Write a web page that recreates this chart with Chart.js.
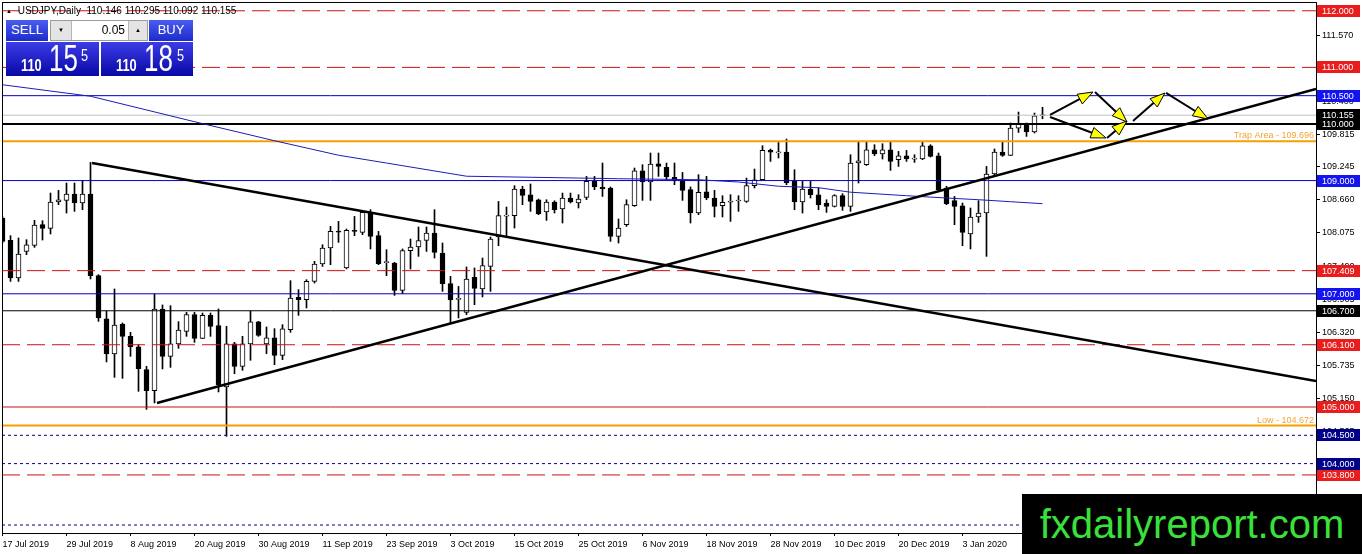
<!DOCTYPE html>
<html lang="en">
<head>
<meta charset="UTF-8">
<title>USDJPY Daily</title>
<script src="https://cdn.jsdelivr.net/npm/chart.js"></script>
<style>
    body { margin: 0; padding: 0; background: #fff; overflow: hidden; font-family: 'Liberation Sans', Arial, sans-serif; }
    #wrap { position: relative; width: 1362px; height: 554px; }
    #chart { position: absolute; left: 0; top: 0; }
    #header { position: absolute; left: 6px; top: 5px; font-size: 10px; line-height: 11px; color: #000; white-space: pre; }
    #header .tri { font-size: 6px; vertical-align: 1px; margin-right: 3px; }
    #panel div { position: absolute; box-sizing: border-box; }
    .btn { color: #fff; font-size: 13px; text-align: center; line-height: 20px; background: linear-gradient(#4a5cf0, #1c2ccc); }
    #sellBtn { left: 6px; top: 20px; width: 42px; height: 21px; }
    #buyBtn { left: 149px; top: 20px; width: 44px; height: 21px; }
    #spin { left: 50px; top: 20px; width: 98px; height: 21px; border: 1px solid #9c9c9c; background: #fff; }
    #spinDown { left: 0; top: 0; width: 21px; height: 19px; background: #e4e4e4; border-right: 1px solid #b4b4b4; font-size: 6px; text-align: center; line-height: 19px; }
    #spinVal { left: 21px; top: 0; width: 57px; height: 19px; text-align: right; font-size: 12px; line-height: 19px; padding-right: 4px; }
    #spinUp { right: 0; top: 0; width: 19px; height: 19px; background: #e4e4e4; border-left: 1px solid #b4b4b4; font-size: 6px; text-align: center; line-height: 19px; }
    .price { top: 42px; height: 34px; background: linear-gradient(#3c3ce6, #0808a6); color: #fff; overflow: hidden; }
    #sellPrice { left: 6px; width: 93px; }
    #buyPrice { left: 101px; width: 92px; }
    .price span { position: absolute; line-height: 1; white-space: nowrap; transform-origin: 0 0; }
    .price .s { top: 16px; left: 15px; font-size: 16px; font-weight: bold; transform: scaleX(0.8); }
    .price .b { top: -2px; left: 43px; font-size: 37px; transform: scaleX(0.7); }
    .price .u { top: 5px; font-size: 17px; transform: scaleX(0.75); }
    #logo { position: absolute; left: 1022px; top: 494px; width: 340px; height: 60px; background: #000; color: #3be03b; font-size: 40px; line-height: 60px; text-align: center; }
</style>
</head>
<body>
<div id="wrap">
    <canvas id="chart" width="1362" height="554"></canvas>
    <div id="header"><span class="tri">&#9650;</span> USDJPY,Daily  110.146 110.295 110.092 110.155</div>
    <div id="panel">
        <div id="sellBtn" class="btn">SELL</div>
        <div id="spin">
            <div id="spinDown">&#9660;</div>
            <div id="spinVal">0.05</div>
            <div id="spinUp">&#9650;</div>
        </div>
        <div id="buyBtn" class="btn">BUY</div>
        <div id="sellPrice" class="price"><span class="s">110</span><span class="b">15</span><span class="u" style="left:75px">5</span></div>
        <div id="buyPrice" class="price"><span class="s">110</span><span class="b">18</span><span class="u" style="left:76px">5</span></div>
    </div>
    <div id="logo">fxdailyreport.com</div>
</div>

<script>
    // daily bars, 17 Jul 2019 -> 17 Jan 2020 (bar index = position on the x axis)
    const barOpen = [
        108.339, 107.944, 107.279, 107.749, 107.855, 108.221, 108.156, 108.622, 108.650, 108.763,
        108.604, 108.763, 107.320, 106.556, 105.937, 106.467, 106.248, 106.061, 105.660, 105.289,
        106.732, 105.895, 106.114, 106.337, 106.631, 106.213, 106.619, 106.437, 105.354, 106.114,
        105.718, 106.114, 106.503, 106.114, 106.220, 105.913, 106.367, 106.937, 106.896, 107.219,
        107.527, 107.809, 108.102, 107.456, 108.120, 108.085, 108.438, 108.027, 107.550, 107.544,
        107.061, 107.762, 107.827, 107.944, 108.074, 107.720, 107.179, 106.900, 106.672, 107.291,
        107.085, 107.485, 108.003, 108.370, 108.380, 108.851, 108.750, 108.662, 108.445, 108.622,
        108.498, 108.692, 108.604, 108.703, 108.986, 108.887, 108.869, 108.014, 108.221, 108.556,
        109.174, 108.975, 109.298, 109.233, 109.056, 108.998, 108.839, 108.427, 108.800, 108.692,
        108.556, 108.620, 108.640, 108.632, 108.910, 109.015, 109.533, 109.490, 109.505, 108.986,
        108.622, 108.851, 108.750, 108.604, 108.544, 108.733, 108.544, 109.310, 109.280, 109.545,
        109.469, 109.545, 109.369, 109.439, 109.380, 109.381, 109.616, 109.439, 108.869, 108.645,
        108.556, 108.057, 108.357, 108.427, 109.116, 109.505, 109.445, 109.928, 110.000, 109.858,
        110.146
    ];
    const barHigh = [
        108.360, 108.027, 107.986, 107.956, 108.297, 108.291, 108.780, 108.827, 108.957, 108.957,
        109.003, 109.321, 107.338, 106.690, 107.085, 106.485, 106.319, 106.102, 105.718, 106.997,
        106.803, 106.790, 106.508, 106.672, 106.672, 106.660, 106.660, 106.732, 106.425, 106.142,
        106.248, 106.690, 106.514, 106.414, 106.384, 106.455, 107.232, 107.073, 107.249, 107.573,
        107.867, 108.191, 108.279, 108.144, 108.367, 108.468, 108.486, 108.102, 107.779, 107.556,
        107.792, 107.968, 108.180, 108.180, 108.486, 107.897, 107.308, 107.130, 107.474, 107.456,
        107.632, 108.003, 108.632, 108.533, 108.910, 108.900, 108.940, 108.674, 108.662, 108.644,
        108.780, 108.780, 108.751, 109.074, 109.074, 109.310, 108.887, 108.321, 108.662, 109.222,
        109.280, 109.487, 109.487, 109.310, 109.310, 109.144, 108.887, 109.104, 109.074, 108.827,
        108.733, 108.751, 108.733, 109.045, 109.204, 109.616, 109.558, 109.674, 109.734, 109.192,
        108.986, 108.986, 108.869, 108.662, 108.751, 108.768, 109.457, 109.692, 109.692, 109.634,
        109.651, 109.692, 109.515, 109.533, 109.457, 109.692, 109.634, 109.487, 108.900, 108.720,
        108.604, 108.516, 108.645, 109.250, 109.558, 109.692, 110.017, 110.211, 110.017, 110.193,
        110.295
    ];
    const barLow = [
        107.900, 107.219, 107.219, 107.691, 107.820, 107.950, 108.057, 108.574, 108.427, 108.456,
        108.486, 107.262, 106.513, 105.796, 105.524, 105.506, 105.895, 105.277, 104.958, 105.072,
        105.672, 105.700, 106.036, 106.248, 106.142, 106.207, 106.248, 105.266, 104.482, 105.589,
        105.648, 105.825, 106.248, 105.943, 105.748, 105.837, 106.319, 106.619, 106.749, 107.190,
        107.484, 107.514, 107.908, 107.440, 108.027, 108.044, 107.792, 107.514, 107.320, 106.972,
        107.002, 107.438, 107.661, 107.749, 107.632, 107.043, 106.485, 106.573, 106.631, 106.808,
        106.944, 107.043, 107.850, 108.027, 108.162, 108.574, 108.456, 108.397, 108.297, 108.427,
        108.250, 108.604, 108.516, 108.662, 108.839, 108.720, 107.926, 107.897, 108.191, 108.544,
        108.650, 108.650, 109.074, 109.015, 108.927, 108.650, 108.250, 108.397, 108.662, 108.357,
        108.357, 108.279, 108.456, 108.615, 108.869, 109.003, 109.339, 109.399, 108.927, 108.486,
        108.427, 108.692, 108.486, 108.438, 108.533, 108.474, 108.456, 108.957, 109.268, 109.440,
        109.381, 109.180, 109.250, 109.339, 109.321, 109.369, 109.416, 108.827, 108.574, 108.221,
        107.850, 107.792, 108.262, 107.661, 109.074, 109.427, 109.440, 109.850, 109.780, 109.840,
        110.092
    ];
    const barClose = [
        107.926, 107.279, 107.703, 107.867, 108.215, 108.156, 108.622, 108.662, 108.763, 108.604,
        108.763, 107.320, 106.573, 105.937, 106.449, 106.248, 106.061, 105.678, 105.289, 106.732,
        105.895, 106.114, 106.361, 106.631, 106.213, 106.619, 106.425, 105.390, 106.114, 105.718,
        106.114, 106.503, 106.266, 106.220, 105.913, 106.379, 106.926, 106.896, 107.219, 107.527,
        107.809, 108.102, 108.090, 108.120, 108.100, 108.438, 108.014, 107.532, 107.560, 107.061,
        107.762, 107.827, 107.938, 108.074, 107.732, 107.179, 106.896, 106.920, 107.262, 107.096,
        107.497, 107.968, 108.380, 108.390, 108.851, 108.738, 108.632, 108.410, 108.622, 108.486,
        108.692, 108.622, 108.675, 108.986, 108.887, 108.851, 108.014, 108.162, 108.574, 109.174,
        108.975, 109.293, 109.250, 109.063, 109.003, 108.827, 108.427, 108.791, 108.692, 108.544,
        108.615, 108.640, 108.650, 108.910, 109.015, 109.533, 109.500, 109.500, 108.957, 108.622,
        108.851, 108.750, 108.574, 108.544, 108.733, 108.544, 109.310, 109.351, 109.545, 109.469,
        109.545, 109.339, 109.439, 109.381, 109.390, 109.616, 109.427, 108.839, 108.592, 108.544,
        108.085, 108.357, 108.427, 109.116, 109.505, 109.445, 109.928, 109.999, 109.858, 110.146,
        110.155
    ];

    // moving average (sampled at some bars)
    const maIndex = [0, 11, 24, 34, 42, 48, 58, 72, 77, 87, 92, 97, 102, 106, 113, 118, 122, 126, 130];
    const maValue = [110.693, 110.490, 110.040, 109.704, 109.448, 109.310, 109.077, 109.045, 109.033, 109.015,
                     108.975, 108.900, 108.874, 108.795, 108.733, 108.692, 108.662, 108.627, 108.592];

    // date axis
    const dateTicks = [0, 8, 16, 24, 32, 40, 48, 56, 64, 72, 80, 88, 96, 104, 112, 120];
    const dateLabels = ['17 Jul 2019', '29 Jul 2019', '8 Aug 2019', '20 Aug 2019', '30 Aug 2019', '11 Sep 2019',
                        '23 Sep 2019', '3 Oct 2019', '15 Oct 2019', '25 Oct 2019', '6 Nov 2019', '18 Nov 2019',
                        '28 Nov 2019', '10 Dec 2019', '20 Dec 2019', '3 Jan 2020'];

    // price axis
    const priceTicks = [111.570, 110.985, 110.400, 109.815, 109.245, 108.660, 108.075, 107.490,
                        106.905, 106.320, 105.735, 105.150, 104.565, 103.980, 103.395];

    // horizontal levels
    const redDashLevels = [112.000, 111.000, 107.409, 106.100, 103.800];
    const redLevels = [105.000];
    const blueLevels = [110.500, 109.000, 107.000];
    const navyDotLevels = [104.500, 104.000, 102.915];
    const thickBlackLevels = [110.000];
    const thinBlackLevels = [106.700];
    const orangeLevels = [109.696, 104.672];
    const orangeNames = ['Trap Area', 'Low'];
    const bidPrice = 110.155;

    // trend lines (bar index, price)
    const trendFromIdx = [11.19, 19.31];
    const trendFromPrice = [109.311, 105.071];
    const trendToIdx = [164.19, 164.19];
    const trendToPrice = [105.459, 110.618];

    // scenario arrows (bar index, price)
    const arrowFromIdx = [130.94, 136.56, 130.94, 138.06, 141.31, 145.44];
    const arrowFromPrice = [110.159, 110.565, 110.124, 109.753, 110.053, 110.548];
    const arrowToIdx = [136.31, 140.56, 137.94, 140.56, 145.31, 150.69];
    const arrowToPrice = [110.565, 110.035, 109.753, 110.053, 110.548, 110.088];

    const xMin = -0.0625, xMax = 164.1875;
    const yMin = 102.774, yMax = 112.155;
    const axisFont = { family: "'Liberation Sans', Arial, sans-serif", size: 9 };

    function levelLine(price, color, width, dash) {
        return {
            type: 'line',
            data: [{ x: xMin, y: price }, { x: xMax, y: price }],
            borderColor: color, borderWidth: width, borderDash: dash || [],
            pointRadius: 0, order: 10, clip: 0
        };
    }

    const datasets = [];
    // wicks then bodies
    datasets.push({
        type: 'bar',
        data: barOpen.map((o, i) => ({ x: i, y: [barLow[i], barHigh[i]] })),
        backgroundColor: '#000', borderWidth: 0, barThickness: 1,
        grouped: false, order: 20, clip: 0
    });
    datasets.push({
        type: 'bar',
        data: barOpen.map((o, i) => ({ x: i, y: [o, barClose[i]] })),
        backgroundColor: ctx => barClose[ctx.dataIndex] >= barOpen[ctx.dataIndex] ? '#fff' : '#000',
        borderColor: '#000', borderWidth: 1, borderSkipped: false, barThickness: 5,
        minBarLength: 1, grouped: false, order: 19, clip: 0
    });

    redDashLevels.forEach(v => datasets.push(levelLine(v, '#cc1111', 1, [18, 7])));
    redLevels.forEach(v => datasets.push(levelLine(v, '#cc1111', 1)));
    blueLevels.forEach(v => datasets.push(levelLine(v, '#0000c0', 1)));
    navyDotLevels.forEach(v => datasets.push(levelLine(v, '#000080', 1, [3, 3])));
    thinBlackLevels.forEach(v => datasets.push(levelLine(v, '#000', 1)));
    datasets.push(levelLine(bidPrice, '#c0c0c0', 1));
    thickBlackLevels.forEach(v => datasets.push(levelLine(v, '#000', 2)));
    orangeLevels.forEach(v => datasets.push(levelLine(v, '#f5a000', 2)));

    // moving average
    datasets.push({
        type: 'line',
        data: maIndex.map((x, i) => ({ x: x, y: maValue[i] })),
        borderColor: '#1c1cb4', borderWidth: 1, pointRadius: 0, tension: 0, order: 8, clip: 0
    });

    // trend lines
    trendFromIdx.forEach((x0, k) => datasets.push({
        type: 'line',
        data: [{ x: x0, y: trendFromPrice[k] }, { x: trendToIdx[k], y: trendToPrice[k] }],
        borderColor: '#000', borderWidth: 2.5, pointRadius: 0, order: 5, clip: 0
    }));

    function drawTag(ctx, area, y, text, bg) {
        ctx.fillStyle = bg;
        ctx.fillRect(area.right + 1, Math.round(y) - 6, 43, 12);
        ctx.fillStyle = '#fff';
        ctx.textAlign = 'left';
        ctx.textBaseline = 'middle';
        ctx.fillText(text, area.right + 6, Math.round(y) + 0.5);
    }

    const drawnObjects = {
        id: 'drawnObjects',
        afterDatasetsDraw(chart) {
            const { ctx, scales: { x, y } } = chart;
            ctx.save();
            ctx.lineJoin = 'miter';
            for (let k = 0; k < arrowFromIdx.length; k++) {
                const x0 = x.getPixelForValue(arrowFromIdx[k]), y0 = y.getPixelForValue(arrowFromPrice[k]);
                const x1 = x.getPixelForValue(arrowToIdx[k]), y1 = y.getPixelForValue(arrowToPrice[k]);
                const a = Math.atan2(y1 - y0, x1 - x0);
                const c = Math.cos(a), s = Math.sin(a);
                ctx.strokeStyle = '#000';
                ctx.lineWidth = 2;
                ctx.beginPath();
                ctx.moveTo(x0, y0);
                ctx.lineTo(x1 - 10 * c, y1 - 10 * s);
                ctx.stroke();
                const bx = x1 - 15 * c, by = y1 - 15 * s;
                ctx.beginPath();
                ctx.moveTo(x1, y1);
                ctx.lineTo(bx + 5.5 * s, by - 5.5 * c);
                ctx.lineTo(bx - 5.5 * s, by + 5.5 * c);
                ctx.closePath();
                ctx.fillStyle = '#ffff00';
                ctx.fill();
                ctx.lineWidth = 1;
                ctx.stroke();
            }
            ctx.restore();
        },
        afterDraw(chart) {
            const { ctx, chartArea: area, scales: { y } } = chart;
            ctx.save();
            // frame
            ctx.strokeStyle = '#000';
            ctx.lineWidth = 1;
            ctx.strokeRect(area.left + 0.5, area.top + 0.5, area.right - area.left, area.bottom - area.top);

            // orange captions
            ctx.font = "9px 'Liberation Sans', Arial, sans-serif";
            ctx.fillStyle = '#f2a433';
            ctx.textAlign = 'right';
            ctx.textBaseline = 'bottom';
            orangeLevels.forEach((v, k) => {
                ctx.fillText(orangeNames[k] + ' - ' + v.toFixed(3), area.right - 2, y.getPixelForValue(v) - 1);
            });

            // price tags on the right axis
            redDashLevels.forEach(v => drawTag(ctx, area, y.getPixelForValue(v), v.toFixed(3), '#ea1c1c'));
            redLevels.forEach(v => drawTag(ctx, area, y.getPixelForValue(v), v.toFixed(3), '#ea1c1c'));
            blueLevels.forEach(v => drawTag(ctx, area, y.getPixelForValue(v), v.toFixed(3), '#1414f0'));
            navyDotLevels.forEach(v => drawTag(ctx, area, y.getPixelForValue(v), v.toFixed(3), '#000088'));
            thinBlackLevels.forEach(v => drawTag(ctx, area, y.getPixelForValue(v), v.toFixed(3), '#000'));
            thickBlackLevels.forEach(v => drawTag(ctx, area, y.getPixelForValue(v), v.toFixed(3), '#000'));
            drawTag(ctx, area, y.getPixelForValue(bidPrice), bidPrice.toFixed(3), '#000');
            ctx.restore();
        }
    };

    new Chart(document.getElementById('chart'), {
        type: 'bar',
        data: { datasets: datasets },
        plugins: [drawnObjects],
        options: {
            responsive: false,
            animation: false,
            devicePixelRatio: 1,
            layout: { padding: { left: 2, top: 2, right: 0, bottom: 0 } },
            plugins: { legend: { display: false }, tooltip: { enabled: false } },
            scales: {
                x: {
                    type: 'linear',
                    min: xMin, max: xMax,
                    offset: false,
                    afterBuildTicks: s => { s.ticks = dateTicks.map(v => ({ value: v })); },
                    afterFit: s => { s.height = 21; s.paddingLeft = 0; s.paddingRight = 0; },
                    ticks: {
                        autoSkip: false, maxRotation: 0, align: 'start', padding: 3,
                        color: '#000', font: axisFont,
                        callback: v => dateLabels[dateTicks.indexOf(v)]
                    },
                    grid: { drawOnChartArea: false, offset: false, tickLength: 3, color: '#000' },
                    border: { display: false }
                },
                y: {
                    position: 'right',
                    min: yMin, max: yMax,
                    afterBuildTicks: s => { s.ticks = priceTicks.map(v => ({ value: v })); },
                    afterFit: s => { s.width = 46; s.paddingTop = 0; s.paddingBottom = 0; },
                    ticks: {
                        autoSkip: false, padding: 2, color: '#000', font: axisFont,
                        callback: v => v.toFixed(3)
                    },
                    grid: { drawOnChartArea: false, tickLength: 4, color: '#000' },
                    border: { display: false }
                }
            }
        }
    });
</script>
</body>
</html>
